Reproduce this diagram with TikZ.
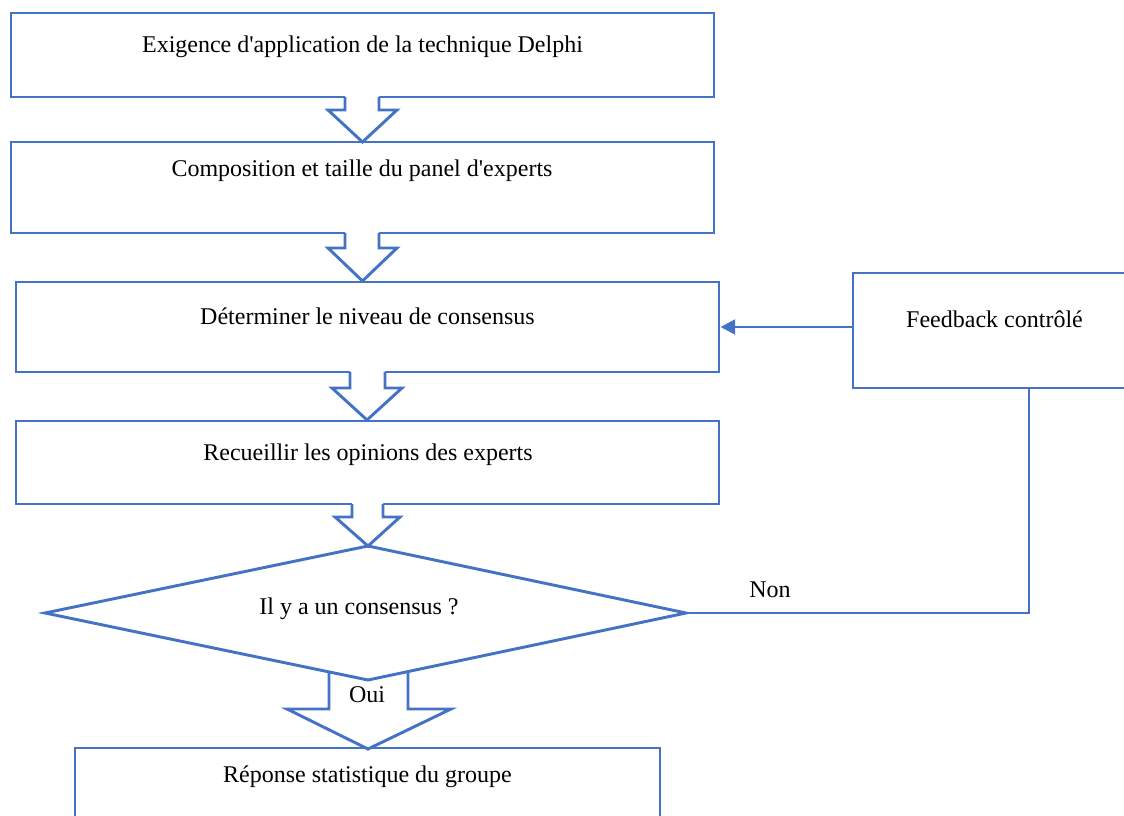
\documentclass[tikz,border=0pt]{standalone}
\usepackage{fontspec}
\setmainfont{Liberation Serif}
\usetikzlibrary{arrows.meta,fit}
\definecolor{lineblue}{HTML}{4472C4}
\begin{document}
\begin{tikzpicture}[x=0.75pt,y=-0.75pt,
  stepbox/.style={draw=lineblue,line width=2.2pt,inner sep=0pt},
  lbl/.style={font=\fontsize{18}{21.6}\selectfont,anchor=base,inner sep=0pt},
  blockline/.style={draw=lineblue,line width=2.2pt,line join=miter},
  link/.style={draw=lineblue,line width=2.2pt}]
\useasboundingbox (0,0) rectangle (1124,816);
\clip (0,0) rectangle (1124,816);

% process boxes
\node[stepbox,fit={(11,13)(714,97)}]   (b1) {};
\node[stepbox,fit={(11,142)(714,233)}] (b2) {};
\node[stepbox,fit={(16,282)(719,372)}] (b3) {};
\node[stepbox,fit={(16,421)(719,504)}] (b4) {};
\node[stepbox,fit={(75,748)(660,840)}] (b5) {};
\node[stepbox,fit={(853,273)(1205,388)}] (fb) {};

% decision diamond
\coordinate (dT) at (368,546);
\coordinate (dL) at (45,613);
\coordinate (dR) at (686,613);
\coordinate (dB) at (368,680);
\draw[blockline] (dT) -- (dR) -- (dB) -- (dL) -- cycle;

% block arrows between the boxes
\fill[white] (345,95) -- (345,110) -- (328,110) -- (362.5,141) -- (397,110) -- (379,110) -- (379,95) -- cycle;
\draw[blockline] (345,97) -- (345,110) -- (328,110) -- (362.5,142) -- (397,110) -- (379,110) -- (379,97);

\fill[white] (345,231) -- (345,248) -- (328,248) -- (362.5,280) -- (397,248) -- (379,248) -- (379,231) -- cycle;
\draw[blockline] (345,233) -- (345,248) -- (328,248) -- (362.5,281) -- (397,248) -- (379,248) -- (379,233);

\fill[white] (350,370) -- (350,388) -- (332,388) -- (367,419) -- (402,388) -- (385,388) -- (385,370) -- cycle;
\draw[blockline] (350,372) -- (350,388) -- (332,388) -- (367,420) -- (402,388) -- (385,388) -- (385,372);

\fill[white] (352,502) -- (352,517) -- (335,517) -- (368,545) -- (400,517) -- (383,517) -- (383,502) -- cycle;
\draw[blockline] (352,504) -- (352,517) -- (335,517) -- (368,546) -- (400,517) -- (383,517) -- (383,504);

% "Oui" exit arrow
\draw[blockline] (329,672) -- (329,709) -- (287,709) -- (368,749) -- (451,709) -- (408,709) -- (408,672);

% feedback loop
\draw[link,-{Triangle[length=11pt,width=11pt]}] (fb.west |- b3.east) -- (b3.east);
\draw[link] (fb.south) |- (dR);

% texts
\node[lbl] (t1) at (362.5,53) {Exigence d\textquotesingle application de la technique Delphi};
\node[lbl] (t2) at (362,177) {Composition et taille du panel d\textquotesingle experts};
\node[lbl] (t3) at (367.5,325) {Déterminer le niveau de consensus};
\node[lbl] (t4) at (368,460) {Recueillir les opinions des experts};
\node[lbl] (t5) at (359,614) {Il y a un consensus ?};
\node[lbl] (t6) at (367.5,782) {Réponse statistique du groupe};
\node[lbl] (t7) at (994.5,328) {Feedback contrôlé};
\node[lbl] (non) at (770,597) {Non};
\node[lbl] (oui) at (367,702) {Oui};
\end{tikzpicture}
\end{document}
